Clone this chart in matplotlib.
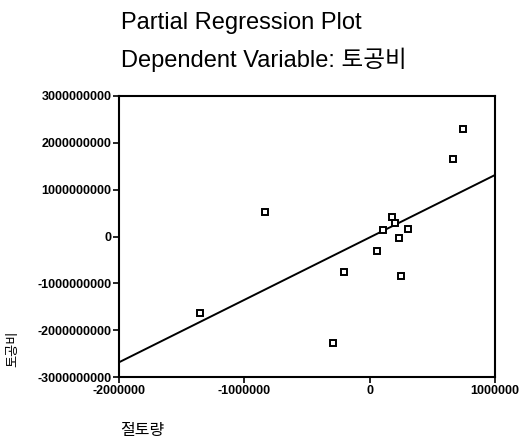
#!/usr/bin/env python3
import numpy as np
import matplotlib
matplotlib.use('Agg')
import matplotlib.pyplot as plt


# residuals (x: 절토량, y: 토공비)
x_resid = [745000, 668000, -838000, 181000, 202000, 106000, 306000,
           231000, 61000, -205000, 250000, -1354000, -295000]
y_resid = [2.29e9, 1.65e9, 0.53e9, 0.42e9, 0.29e9, 0.14e9, 0.16e9,
           -0.04e9, -0.32e9, -0.76e9, -0.84e9, -1.63e9, -2.27e9]

# fit line
fit_slope = 1333.0
fit_intercept = -0.02e9

x_ticks = [-2000000, -1000000, 0, 1000000]
y_ticks = [-3000000000, -2000000000, -1000000000, 0,
           1000000000, 2000000000, 3000000000]

title_line1 = 'Partial Regression Plot'
title_line2 = 'Dependent Variable: 토공비'
x_label = '절토량'
y_label = '토공비'

fonts = ['Liberation Sans', 'Noto Sans CJK KR', 'DejaVu Sans']


def main():
    plt.rcParams['font.family'] = fonts
    fig = plt.figure(figsize=(5.23, 4.41), dpi=100)
    ax = fig.add_axes([119 / 523, 1 - 377 / 441, 376 / 523, 281 / 441])

    ax.set_xlim(x_ticks[0], x_ticks[-1])
    ax.set_ylim(y_ticks[0], y_ticks[-1])

    xs = np.array(ax.get_xlim())
    ax.plot(xs, fit_slope * xs + fit_intercept, color='black', lw=1.4)

    ax.plot(x_resid, y_resid, ls='none', marker='s', ms=5,
            mfc='white', mec='black', mew=1.4)

    ax.set_xticks(x_ticks)
    ax.set_yticks(y_ticks)
    ax.set_xticklabels([str(v) for v in x_ticks])
    ax.set_yticklabels([str(v) for v in y_ticks])
    for lab in ax.get_xticklabels() + ax.get_yticklabels():
        lab.set_fontweight('bold')
        lab.set_fontsize(9)
    ax.tick_params(direction='out', length=4, width=1.2, pad=1.5,
                   colors='black')
    for sp in ax.spines.values():
        sp.set_linewidth(1.5)

    fig.text(121 / 523, 1 - 29 / 441, title_line1, fontsize=17,
             va='baseline', ha='left')
    fig.text(121 / 523, 1 - 67 / 441, title_line2, fontsize=17,
             va='baseline', ha='left')
    fig.text(120 / 523, 1 - 431 / 441, x_label, fontsize=11.5,
             va='center', ha='left')
    fig.text(13 / 523, 1 - 349 / 441, y_label, fontsize=9.5,
             va='center', ha='center', rotation=90)

    fig.savefig('out.png', dpi=100)


if __name__ == '__main__':
    main()
